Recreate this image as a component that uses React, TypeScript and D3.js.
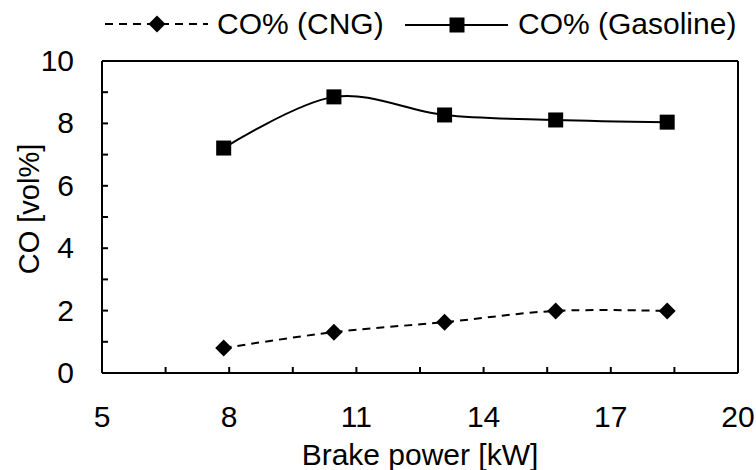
import React from 'react';
import * as d3 from 'd3';

const brakePower = [7.87, 10.47, 13.08, 15.7, 18.33];
const coCng = [0.8, 1.31, 1.63, 1.99, 1.99];
const coGasoline = [7.21, 8.85, 8.27, 8.11, 8.04];
const xTickLabels = [5, 8, 11, 14, 17, 20];
const yTickLabels = [0, 2, 4, 6, 8, 10];

const W = 756;
const H = 470;
const margin = { top: 61, right: 18, bottom: 97, left: 102 };
const FONT = '"Liberation Sans", Arial, sans-serif';

export default function App() {
  const x = d3.scaleLinear().domain([5, 20]).range([margin.left, W - margin.right]);
  const y = d3.scaleLinear().domain([0, 10]).range([H - margin.bottom, margin.top]);

  const line = d3.line<number>()
    .x((d, i) => x(brakePower[i]))
    .y((d) => y(d))
    .curve(d3.curveCardinal.tension(0));

  const xMinor = d3.range(5, 20.01, 1.5);
  const yMinor = d3.range(0, 10.01, 1);
  const diamond = (cx: number, cy: number, r = 8.5) =>
    `M${cx},${cy - r}L${cx + r},${cy}L${cx},${cy + r}L${cx - r},${cy}Z`;

  const [x0, x1] = x.range();
  const [y0, y1] = y.range();

  return (
    <svg width={W} height={H} style={{ position: 'absolute', left: 0, top: 0, background: '#fff' }}
      fontFamily={FONT}>
      <rect x={0} y={0} width={W} height={H} fill="#fff" />

      {/* frame */}
      <g stroke="#000" strokeWidth={2}>
        <line x1={x0} x2={x1} y1={y1} y2={y1} />
        <line x1={x0} x2={x1} y1={y0} y2={y0} />
        <line x1={x0} x2={x0} y1={y1} y2={y0} />
        <line x1={x1} x2={x1} y1={y1} y2={y0} />
        {xMinor.map((v) => (
          <line key={'xt' + v} x1={x(v)} x2={x(v)} y1={y0} y2={y0 - 6} />
        ))}
        {yMinor.map((v) => (
          <line key={'yt' + v} x1={x0} x2={x0 + 6} y1={y(v)} y2={y(v)} />
        ))}
      </g>

      {xTickLabels.map((v) => (
        <text key={'xl' + v} x={x(v)} y={y0 + 54} textAnchor="middle" fontSize={30}>{v}</text>
      ))}
      {yTickLabels.map((v) => (
        <text key={'yl' + v} x={x0 - 28} y={y(v) + 10} textAnchor="end" fontSize={30}>{v}</text>
      ))}
      <text x={(x0 + x1) / 2} y={465} textAnchor="middle" fontSize={30}>Brake power [kW]</text>
      <text transform={`translate(39,209) rotate(-90)`} textAnchor="middle" fontSize={29}>CO [vol%]</text>

      {/* series */}
      <path d={line(coCng) || ''} fill="none" stroke="#000" strokeWidth={2} strokeDasharray="8,6" />
      <path d={line(coGasoline) || ''} fill="none" stroke="#000" strokeWidth={2} />
      {coCng.map((v, i) => (
        <path key={'c' + i} d={diamond(x(brakePower[i]), y(v))} fill="#000" />
      ))}
      {coGasoline.map((v, i) => (
        <rect key={'g' + i} x={x(brakePower[i]) - 7.5} y={y(v) - 7.5} width={15} height={15} fill="#000" />
      ))}

      {/* legend */}
      <line x1={105} x2={208} y1={24} y2={24} stroke="#000" strokeWidth={2} strokeDasharray="8,6" />
      <path d={diamond(157, 24)} fill="#000" />
      <text x={217} y={34} fontSize={30}>CO% (CNG)</text>
      <line x1={405} x2={508} y1={25} y2={25} stroke="#000" strokeWidth={2} />
      <rect x={449.5} y={17.5} width={15} height={15} fill="#000" />
      <text x={518} y={34} fontSize={30}>CO% (Gasoline)</text>
    </svg>
  );
}
